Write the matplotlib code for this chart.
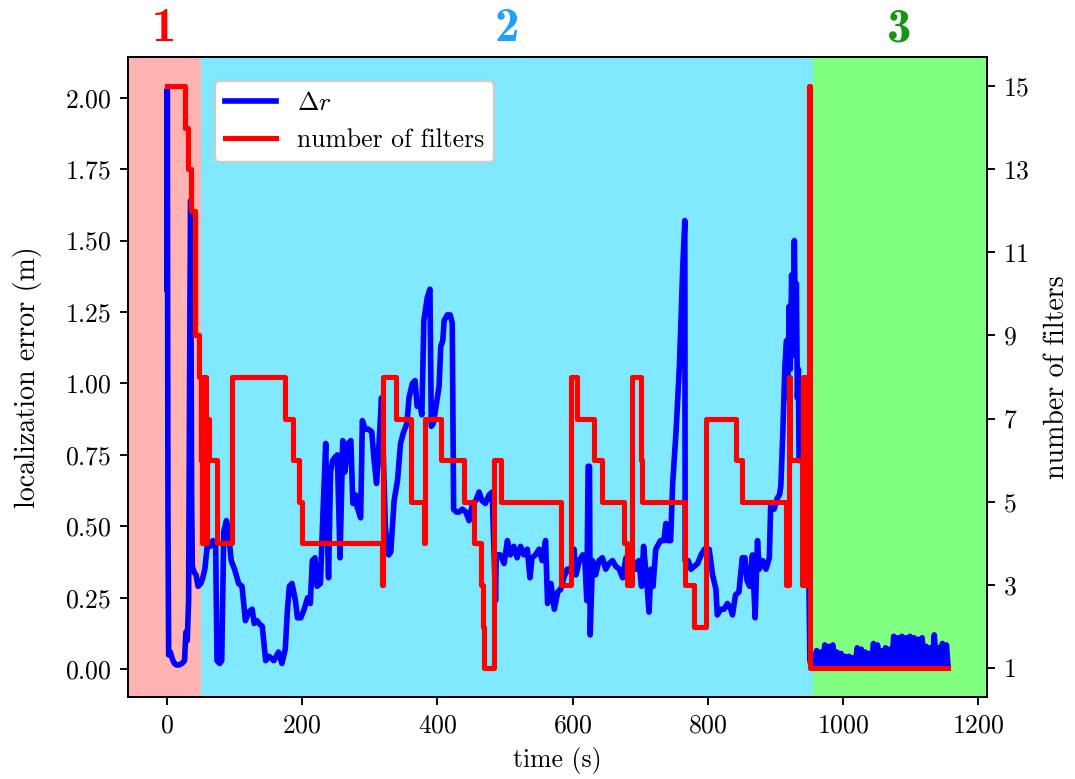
import numpy as np
import matplotlib
matplotlib.use("Agg")
import matplotlib.pyplot as plt
import matplotlib.transforms as mtransforms

# estilo tipo LaTeX (Computer Modern)
plt.rcParams['font.family'] = 'cmr10'
plt.rcParams['mathtext.fontset'] = 'cm'
plt.rcParams['axes.formatter.use_mathtext'] = True
plt.rcParams['axes.unicode_minus'] = False
plt.rcParams['font.size'] = 11

# ==============================================================================
# DADOS
# ==============================================================================

# erro de localizacao (m) x tempo (s)
tempo_erro = [0, 0.5, 1.5, 2.5, 5, 8, 11, 14, 18, 22, 26, 28, 30, 32, 34, 35, 36.5, 37.5,
              40, 43, 46, 50, 53, 56, 60, 64, 68, 72, 74, 78, 81, 84, 88, 91, 95, 100,
              106, 111, 116, 121, 126, 129, 133, 136, 141, 146, 151, 158, 165, 170, 175,
              178, 181, 185, 190, 193, 198, 203, 208, 212, 215, 219, 222, 227, 230, 234.8,
              237, 239, 242, 245, 248, 252, 256, 260, 263, 268, 272, 275, 279, 281, 286.5,
              289, 293, 298, 303, 306, 310, 313, 317.4, 320, 323, 326, 328, 331, 336, 341,
              345.5, 350, 355, 358, 363, 367, 370, 374, 377, 380, 385, 389, 391, 394, 398,
              402.5, 405, 408, 410, 414.7, 419, 422, 424, 428, 432, 437, 442, 447, 452,
              456.8, 461.7, 466, 471, 476.5, 481, 486, 487, 493, 498.7, 503.6, 508, 513,
              518, 523, 528, 533, 537, 540, 545, 550.5, 555, 560, 563, 568, 573, 578, 582.5,
              587, 592, 597, 602, 605, 610, 615, 618, 621, 623, 625, 626, 629.4, 634, 639,
              644, 649, 654, 659, 664, 669, 674, 679, 684, 689, 694, 698, 702, 705, 710,
              713, 716, 719, 723, 730, 735, 738, 741, 745, 748, 753, 758, 763, 766, 766.5,
              771, 775, 780, 785, 790, 795, 799, 802, 807, 812, 814, 819, 824, 829, 834,
              836.5, 841, 846, 851, 855, 858, 862, 866, 870, 873.5, 876, 881, 886, 891, 893,
              898, 903, 906, 908, 911, 914, 916.5, 918, 920.4, 922, 924, 926, 928, 929.5,
              931, 932.5, 934, 935, 937, 939, 942, 945, 948, 951,
              952, 955, 958, 961, 964, 967, 970, 973, 976, 979, 982, 985, 988, 991, 994,
              997, 1000, 1003, 1006, 1009, 1012, 1015, 1018, 1021, 1024, 1027, 1030, 1033,
              1036, 1039, 1042, 1045, 1048, 1051, 1054, 1057, 1060, 1063, 1066, 1069, 1072,
              1075, 1078, 1081, 1084, 1087, 1090, 1093, 1096, 1099, 1102, 1105, 1108, 1111,
              1114, 1117, 1120, 1123, 1126, 1129, 1132, 1135, 1138, 1141, 1144, 1147, 1150,
              1153, 1155]
erro = [1.33, 2.03, 0.52, 0.05, 0.06, 0.035, 0.02, 0.015, 0.015, 0.02, 0.03, 0.13, 0.10, 0.24,
        1.30, 1.64, 0.60, 0.36, 0.34, 0.33, 0.29, 0.30, 0.32, 0.35, 0.44, 0.43, 0.45, 0.44,
        0.03, 0.02, 0.03, 0.48, 0.52, 0.48, 0.38, 0.35, 0.30, 0.29, 0.17, 0.20, 0.21, 0.16,
        0.17, 0.16, 0.15, 0.03, 0.045, 0.03, 0.06, 0.02, 0.07, 0.20, 0.29, 0.30, 0.24, 0.18,
        0.18, 0.21, 0.25, 0.23, 0.38, 0.39, 0.29, 0.30, 0.50, 0.79, 0.50, 0.32, 0.69, 0.73,
        0.74, 0.75, 0.39, 0.80, 0.69, 0.79, 0.80, 0.58, 0.61, 0.57, 0.53, 0.87, 0.84, 0.84,
        0.83, 0.74, 0.65, 0.76, 0.95, 0.75, 0.50, 0.42, 0.40, 0.41, 0.59, 0.66, 0.79, 0.83,
        0.86, 0.95, 1.00, 1.01, 0.92, 0.93, 0.89, 1.22, 1.30, 1.33, 0.85, 0.86, 0.92, 0.99,
        1.13, 1.15, 1.22, 1.24, 1.24, 1.21, 0.56, 0.55, 0.55, 0.56, 0.55, 0.52, 0.58, 0.59,
        0.62, 0.59, 0.58, 0.61, 0.62, 0.24, 0.40, 0.40, 0.37, 0.45, 0.40, 0.43, 0.39, 0.43,
        0.40, 0.42, 0.32, 0.39, 0.40, 0.42, 0.38, 0.45, 0.23, 0.30, 0.21, 0.27, 0.28, 0.32,
        0.35, 0.34, 0.42, 0.33, 0.38, 0.40, 0.39, 0.24, 0.71, 0.71, 0.12, 0.38, 0.33, 0.38,
        0.39, 0.35, 0.37, 0.38, 0.36, 0.35, 0.32, 0.39, 0.38, 0.38, 0.35, 0.38, 0.29, 0.43,
        0.30, 0.20, 0.35, 0.29, 0.42, 0.45, 0.45, 0.51, 0.45, 0.45, 0.65, 0.83, 1.06, 1.41,
        1.57, 0.38, 0.38, 0.35, 0.36, 0.37, 0.40, 0.42, 0.39, 0.42, 0.33, 0.28, 0.19, 0.21,
        0.21, 0.23, 0.21, 0.19, 0.26, 0.27, 0.39, 0.39, 0.31, 0.29, 0.40, 0.18, 0.45, 0.35,
        0.38, 0.35, 0.39, 0.57, 0.56, 0.60, 0.61, 0.64, 0.83, 1.06, 1.15, 0.95, 1.27, 1.05,
        1.38, 1.10, 1.50, 1.20, 1.35, 0.95, 1.05, 0.73, 0.75, 0.90, 0.75, 0.85, 0.60, 0.03,
        0.02, 0.05, 0.015, 0.065, 0.02, 0.06, 0.015, 0.085, 0.02, 0.08, 0.015, 0.085, 0.02,
        0.06, 0.015, 0.055, 0.02, 0.045, 0.015, 0.045, 0.02, 0.04, 0.015, 0.075, 0.02, 0.07,
        0.015, 0.06, 0.02, 0.055, 0.015, 0.09, 0.02, 0.085, 0.015, 0.065, 0.02, 0.075, 0.015,
        0.07, 0.02, 0.115, 0.015, 0.11, 0.02, 0.115, 0.015, 0.11, 0.02, 0.115, 0.015, 0.11,
        0.02, 0.105, 0.015, 0.11, 0.02, 0.08, 0.015, 0.075, 0.02, 0.12, 0.015, 0.075, 0.02,
        0.09, 0.015, 0.085, 0.02]

# numero de filtros (degraus) x tempo (s)
tempo_filtros = [0, 27, 31, 35, 42, 47, 50, 51, 52, 55, 57, 59, 62, 74, 96, 174, 186, 195,
                 199, 318, 320, 339, 361, 380, 381, 405, 440, 454.5, 464.5, 467, 469, 484,
                 494, 583, 598, 606, 631, 644, 676, 680, 688, 700.5, 703, 766, 767, 780,
                 798, 842, 851, 915, 920, 922, 940, 941, 943, 945, 947, 949, 951, 1155]
n_filtros = [15, 14, 13, 12, 9, 8, 6, 8, 4, 8, 4, 7, 6, 4, 8, 7, 6, 5,
             4, 3, 8, 7, 5, 4, 7, 6, 5, 4, 3, 2, 1, 6,
             5, 3, 8, 7, 6, 5, 4, 3, 8, 6, 5, 4, 3, 2,
             7, 6, 5, 3, 8, 6, 3, 8, 3, 8, 3, 15, 1, 1]

# fases do experimento (s)
fim_fase1 = 50
inicio_fase3 = 955
rotulos_fases = ['1', '2', '3']
cores_fases = ['#ffb3b3', '#80e8ff', '#80ff80']
cores_rotulos = ['#ff0000', '#1ea0ff', '#149614']

# ==============================================================================
# GRAFICO
# ==============================================================================

fig, ax = plt.subplots(figsize=(1075 / 168, 779 / 168), dpi=168)
fig.subplots_adjust(left=0.119, right=0.918, bottom=0.105, top=0.927)
ax2 = ax.twinx()

l1, = ax.plot(tempo_erro, erro, color='blue', lw=2.4, label=r'$\Delta r$', zorder=3)
l2, = ax2.plot(tempo_filtros, n_filtros, color='red', lw=2.2, drawstyle='steps-post',
               label='number of filters')

xl = ax.get_xlim()
limites = [xl[0], fim_fase1, inicio_fase3, xl[1]]
trans = mtransforms.blended_transform_factory(ax.transData, ax.transAxes)
for i in range(3):
    ax.axvspan(limites[i], limites[i + 1], color=cores_fases[i], lw=0, zorder=0)
    ax.text((limites[i] + limites[i + 1]) / 2, 1.024, rotulos_fases[i], transform=trans,
            ha='center', va='baseline', fontsize=21, color=cores_rotulos[i],
            fontfamily='cmb10')
ax.set_xlim(xl)
ax.set_ylim(-0.098, 2.143)

ax.set_yticks(np.arange(0, 2.01, 0.25))
ax2.set_yticks(np.arange(1, 16, 2))

ax.set_xlabel('time (s)')
ax.set_ylabel('localization error (m)', fontsize=12, labelpad=10)
ax2.set_ylabel('number of filters', fontsize=12, labelpad=6)

ax2.legend(handles=[l1, l2], loc='upper left', bbox_to_anchor=(0.086, 0.982),
           framealpha=1, fontsize=11)

plt.savefig('out.png', dpi=168)
